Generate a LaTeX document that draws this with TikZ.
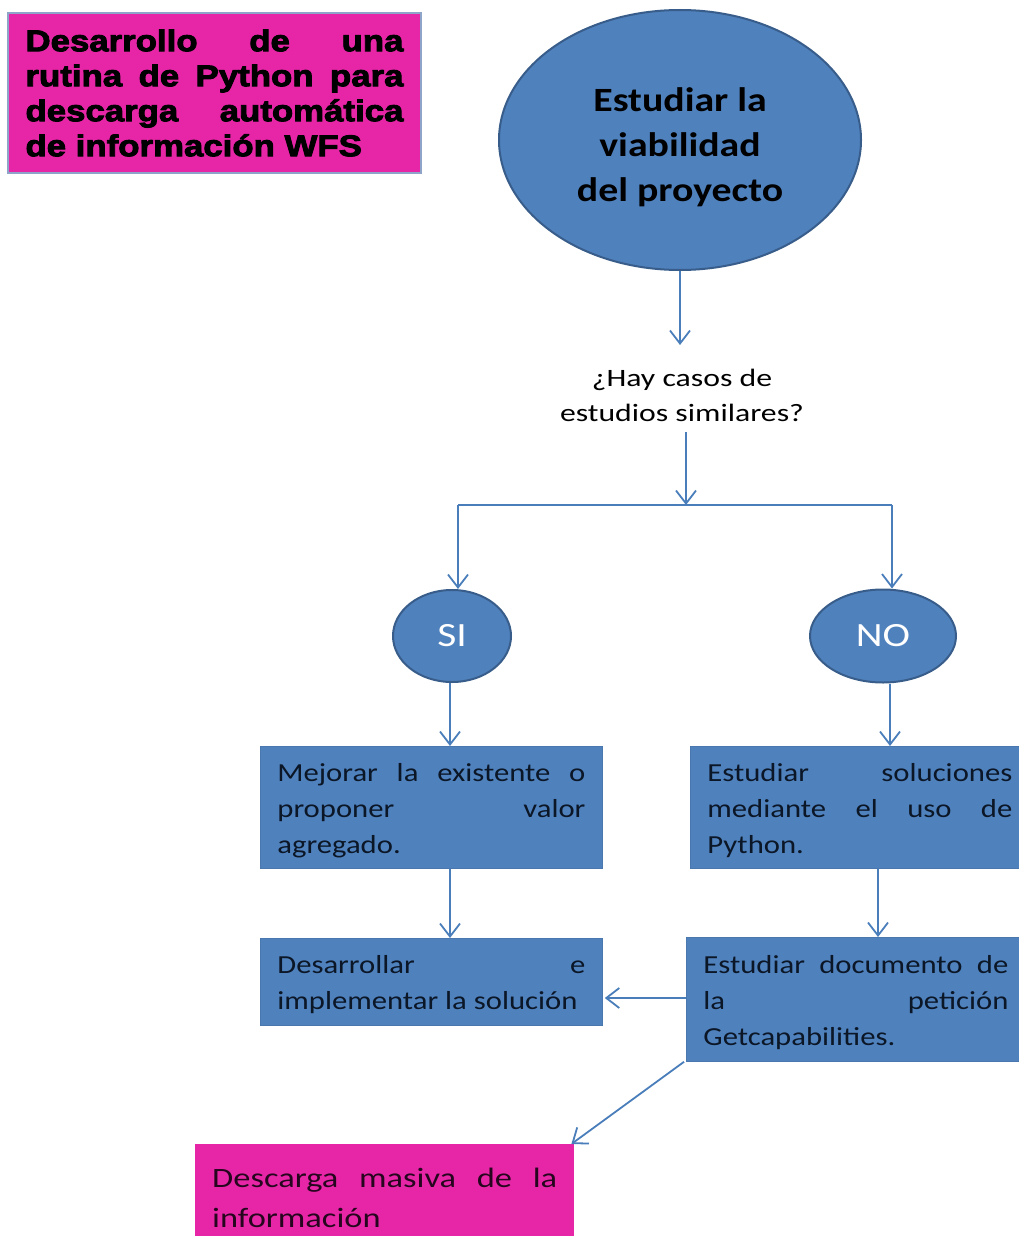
\documentclass[tikz,border=0pt]{standalone}
\usepackage{fontspec}
\setmainfont{Carlito}
\newfontfamily\titlefont[BoldFeatures={FakeBold=3,FakeStretch=1.16}]{Liberation Sans}
\newfontfamily\boxfont[FakeStretch=1.18]{Carlito}
\newfontfamily\ellfont[FakeStretch=1.17]{Carlito}
\newfontfamily\qfont[FakeStretch=1.27]{Carlito}
\newfontfamily\sifont[FakeStretch=1.22]{Carlito}
\newfontfamily\dlfont[FakeStretch=1.23]{Carlito}
\usetikzlibrary{arrows.meta,shapes.geometric}
\definecolor{ofblue}{HTML}{4F81BD}
\definecolor{ofborder}{HTML}{385D8A}
\definecolor{arrowblue}{HTML}{4A7EBB}
\definecolor{pinkfill}{HTML}{E726A7}
\definecolor{titleborder}{HTML}{8EA4C8}
\definecolor{boxtext}{HTML}{0B1626}
\definecolor{dltext}{HTML}{26061E}
\newcommand{\jline}[2]{\makebox[#1][s]{\spaceskip=0pt\xspaceskip=0pt\relax#2}}
\newcommand{\topstrut}{\rule{0pt}{24pt}}
\begin{document}
\begin{tikzpicture}[x=1pt,y=-1pt,
  bluebox/.style={rectangle, fill=ofblue, draw=ofblue!92!black, line width=0.8pt,
    inner xsep=17pt, inner ysep=0pt, align=justify, anchor=north west,
    font=\boxfont\fontsize{26}{36}\selectfont, text=boxtext},
  blueell/.style={ellipse, fill=ofblue, draw=ofborder, line width=2pt, inner sep=0pt},
  pinkbox/.style={rectangle, fill=pinkfill, inner ysep=0pt, align=justify, anchor=north west},
  arr/.style={draw=arrowblue, line width=1.8pt, -{Straight Barb[length=13pt,width=20pt,line width=1.8pt]}},
  ln/.style={draw=arrowblue, line width=1.8pt}
]
\useasboundingbox (0,0) rectangle (1018,1236);

% title
\node[pinkbox, draw=titleborder, line width=2pt, minimum width=413pt, minimum height=160pt,
  text width=378pt, inner xsep=17.5pt, font=\titlefont\bfseries\fontsize{30}{35}\selectfont]
  (title) at (7,12)
  {\jline{378pt}{Desarrollo de una}\\
   \jline{378pt}{rutina de Python para}\\
   \jline{378pt}{descarga automática}\\
   de información WFS};

% main ellipse
\node[blueell, minimum width=362pt, minimum height=260pt, align=center,
  font=\ellfont\bfseries\fontsize{34}{45}\selectfont] (main) at (680,140)
  {\rule{0pt}{38pt}Estudiar la\\viabilidad\\del proyecto};

% question
\node[align=center, inner sep=0pt, font=\qfont\fontsize{25}{35}\selectfont] (q) at (682,395)
  {¿Hay casos de\\estudios similares?};

\draw[arr] (main.south) -- (main.south |- 0,345);

\coordinate (j) at (686,505);
\coordinate (jl) at (458,505);
\coordinate (jr) at (892,505);
\draw[arr] (j |- 0,432) -- (j);
\draw[ln] (jl) -- (jr);

% SI / NO
\node[blueell, minimum width=118pt, minimum height=92pt, text=white,
  font=\sifont\fontsize{34}{40}\selectfont] (si) at (452,636) {SI};
\node[blueell, minimum width=146pt, minimum height=93pt, text=white,
  font=\sifont\fontsize{34}{40}\selectfont] (no) at (883,636) {NO};

\draw[arr] (jl) -- (jl |- si.north);
\draw[arr] (jr) -- (jr |- no.north);

% boxes
\node[bluebox, text width=308pt, minimum height=122pt] (mej) at (260,746)
  {\topstrut\jline{308pt}{Mejorar la existente o}\\
   \jline{308pt}{proponer valor}\\
   agregado.};
\node[bluebox, text width=305pt, minimum height=122pt] (sol) at (690,746)
  {\topstrut\jline{305pt}{Estudiar soluciones}\\
   \jline{305pt}{mediante el uso de}\\
   Python.};
\node[bluebox, text width=308pt, minimum height=87pt] (des) at (260,938)
  {\topstrut\jline{308pt}{Desarrollar e}\\
   implementar la solución};
\node[bluebox, text width=305pt, minimum height=124pt] (doc) at (686,937)
  {\topstrut\jline{305pt}{Estudiar documento de}\\
   \jline{305pt}{la petición}\\
   Getcapabilities.};
\node[pinkbox, text width=345pt, inner xsep=17pt, minimum height=108pt,
  font=\dlfont\fontsize{28}{40}\selectfont, text=dltext] (dl) at (195,1144)
  {\jline{345pt}{Descarga masiva de la}\\
   información};

\coordinate (a1) at (450,0);
\coordinate (a2) at (890,0);
\coordinate (a3) at (878,0);
\draw[arr] (si.south -| a1) -- (a1 |- mej.north);
\draw[arr] (no.south -| a2) -- (a2 |- sol.north);
\draw[arr] (mej.south -| a1) -- (a1 |- des.north);
\draw[arr] (sol.south -| a3) -- (a3 |- doc.north);
\draw[arr] (doc.west |- 0,998) -- ([xshift=2pt]des.east |- 0,998);
\draw[arr] ([xshift=-2pt]doc.south west) -- ([xshift=-3pt]dl.north east);
\end{tikzpicture}
\end{document}
